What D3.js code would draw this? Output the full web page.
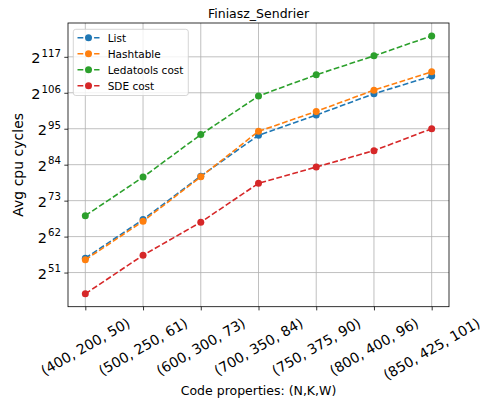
<!DOCTYPE html>
<html>
<head>
<meta charset="utf-8">
<script src="https://cdn.jsdelivr.net/npm/d3@7/dist/d3.min.js"></script>
<style>
  html, body { margin: 0; padding: 0; background: #ffffff; }
  svg { display: block; font-family: "DejaVu Sans", sans-serif; }
</style>
</head>
<body>
<svg id="chart" width="482" height="403"></svg>
<script>
// Code parameter sets (N, K, W) along the x axis
const categories = [
  "(400, 200, 50)", "(500, 250, 61)", "(600, 300, 73)", "(700, 350, 84)",
  "(750, 375, 90)", "(800, 400, 96)", "(850, 425, 101)"
];

// Average cpu cycles, stored as base-2 exponents (value = 2^e)
const listLog2      = [55.4, 67.2, 80.5, 93.0, 99.2, 105.7, 111.1];
const hashtableLog2 = [54.9, 66.7, 80.3, 94.2, 100.3, 106.8, 112.4];
const ledatoolsLog2 = [68.4, 80.2, 93.2, 105.0, 111.5, 117.3, 123.4];
const sdeLog2       = [44.5, 56.3, 66.4, 78.3, 83.3, 88.3, 95.0];

// y tick exponents
const yTickExps = [51, 62, 73, 84, 95, 106, 117];

const seriesNames  = ["List", "Hashtable", "Ledatools cost", "SDE cost"];
const seriesColors = ["#1f77b4", "#ff7f0e", "#2ca02c", "#d62728"];

const series = [listLog2, hashtableLog2, ledatoolsLog2, sdeLog2].map((vals, i) => ({
  name: seriesNames[i],
  color: seriesColors[i],
  values: vals.map((e, j) => ({ cat: categories[j], v: Math.pow(2, e) }))
}));

const svg = d3.select("#chart");
const plot = { left: 68, right: 449, top: 23, bottom: 306.7 };

const x = d3.scalePoint()
  .domain(categories)
  .range([plot.left, plot.right])
  .padding(0.3);

// log-scale y domain with 5% padding in log space
const allExp = [].concat(listLog2, hashtableLog2, ledatoolsLog2, sdeLog2);
const eMin = d3.min(allExp), eMax = d3.max(allExp);
const pad = (eMax - eMin) * 0.05;
const y = d3.scaleLog().base(2)
  .domain([Math.pow(2, eMin - pad), Math.pow(2, eMax + pad)])
  .range([plot.bottom, plot.top]);

const yTicks = yTickExps.map(e => Math.pow(2, e));

// grid
const grid = svg.append("g");
grid.selectAll("line.gx").data(categories).join("line")
  .attr("x1", d => x(d)).attr("x2", d => x(d))
  .attr("y1", plot.top).attr("y2", plot.bottom)
  .attr("stroke", "#b0b0b0").attr("stroke-width", 0.8);
grid.selectAll("line.gy").data(yTicks).join("line")
  .attr("x1", plot.left).attr("x2", plot.right)
  .attr("y1", d => y(d)).attr("y2", d => y(d))
  .attr("stroke", "#b0b0b0").attr("stroke-width", 0.8);

// x axis
const xAxis = svg.append("g")
  .attr("transform", `translate(0,${plot.bottom})`)
  .call(d3.axisBottom(x).tickSize(3.7).tickFormat(""));
xAxis.select(".domain").remove();
xAxis.selectAll(".tick line").attr("stroke", "#000").attr("stroke-width", 0.8);

// rotated x tick labels, centred under each tick
const xl = svg.append("g");
categories.forEach(c => {
  const t = xl.append("text")
    .attr("font-size", 14)
    .attr("text-anchor", "middle")
    .attr("dominant-baseline", "central")
    .text(c);
  const w = t.node().getComputedTextLength();
  const h = 14 * 1.17;
  const H = w * 0.5 + h * 0.866;
  t.attr("transform", `translate(${x(c)},${314.5 + H / 2}) rotate(-30)`);
});

// y axis
const yAxis = svg.append("g")
  .attr("transform", `translate(${plot.left},0)`)
  .call(d3.axisLeft(y).tickValues(yTicks).tickSize(3.7).tickFormat(""));
yAxis.select(".domain").remove();
yAxis.selectAll(".tick line").attr("stroke", "#000").attr("stroke-width", 0.8);

// y tick labels as 2^e
const yl = svg.append("g");
yTickExps.forEach((e, i) => {
  const t = yl.append("text")
    .attr("x", 61)
    .attr("y", y(yTicks[i]) + 6.6)
    .attr("text-anchor", "end")
    .attr("fill", "#000");
  t.append("tspan").attr("font-size", 14.5).text("2");
  t.append("tspan").attr("font-size", 10.2).attr("dy", -6.8).attr("dx", 1).text(e);
});

// series lines and markers
const line = d3.line().x(d => x(d.cat)).y(d => y(d.v));
series.forEach(s => {
  svg.append("path")
    .datum(s.values)
    .attr("d", line)
    .attr("fill", "none")
    .attr("stroke", s.color)
    .attr("stroke-width", 1.6)
    .attr("stroke-dasharray", "5.8,2.5");
  svg.append("g").selectAll("circle").data(s.values).join("circle")
    .attr("cx", d => x(d.cat)).attr("cy", d => y(d.v))
    .attr("r", 3.5).attr("fill", s.color);
});

// frame
svg.append("rect")
  .attr("x", plot.left).attr("y", plot.top)
  .attr("width", plot.right - plot.left).attr("height", plot.bottom - plot.top)
  .attr("fill", "none").attr("stroke", "#000").attr("stroke-width", 0.8);

// legend
const lg = svg.append("g");
lg.append("rect")
  .attr("x", 73.3).attr("y", 29.3).attr("width", 115).attr("height", 66.2)
  .attr("rx", 2.5).attr("fill", "#ffffff").attr("fill-opacity", 0.8)
  .attr("stroke", "#cccccc").attr("stroke-width", 0.8);
series.forEach((s, i) => {
  const cy = 37.7 + i * 16;
  lg.append("line")
    .attr("x1", 77.5).attr("x2", 99.5).attr("y1", cy).attr("y2", cy)
    .attr("stroke", s.color).attr("stroke-width", 1.6)
    .attr("stroke-dasharray", "5.8,2.5");
  lg.append("circle").attr("cx", 88.5).attr("cy", cy).attr("r", 3.5).attr("fill", s.color);
  lg.append("text")
    .attr("x", 107.7).attr("y", cy + 3.8)
    .attr("font-size", 10.5).attr("fill", "#000")
    .text(s.name);
});

// titles
svg.append("text")
  .attr("x", (plot.left + plot.right) / 2).attr("y", 17.5)
  .attr("text-anchor", "middle").attr("font-size", 12.5)
  .text("Finiasz_Sendrier");
svg.append("text")
  .attr("x", (plot.left + plot.right) / 2).attr("y", 394.5)
  .attr("text-anchor", "middle").attr("font-size", 12.5)
  .text("Code properties: (N,K,W)");
svg.append("text")
  .attr("transform", `translate(23,${(plot.top + plot.bottom) / 2}) rotate(-90)`)
  .attr("text-anchor", "middle").attr("font-size", 14)
  .text("Avg cpu cycles");
</script>
</body>
</html>
